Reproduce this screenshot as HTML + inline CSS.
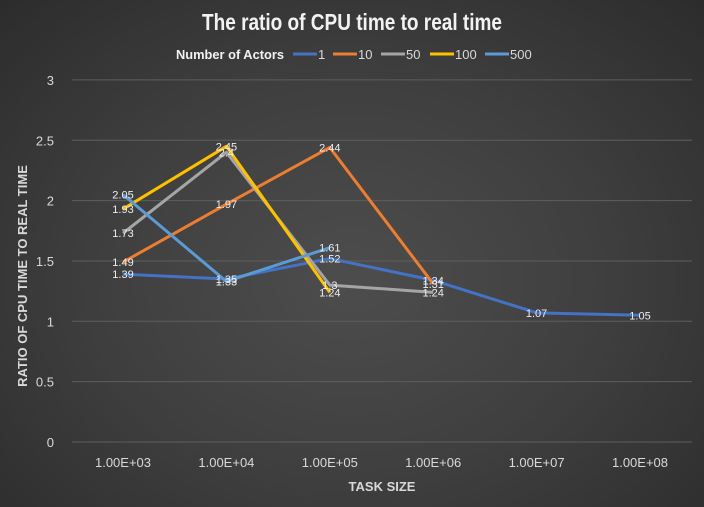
<!DOCTYPE html>
<html><head><meta charset="utf-8"><style>
html,body{margin:0;padding:0;width:704px;height:507px;overflow:hidden}
body{background:radial-gradient(ellipse at 50% 55%,#4d4d4d 0%,#3f3f3f 50%,#2c2c2c 100%);font-family:"Liberation Sans",sans-serif}
</style></head><body>
<svg id="chart" width="704" height="507" xmlns="http://www.w3.org/2000/svg"></svg>
<script>
const categories=["1.00E+03","1.00E+04","1.00E+05","1.00E+06","1.00E+07","1.00E+08"];
const yTicks=[0,0.5,1,1.5,2,2.5,3];
const seriesNames=["1","10","50","100","500"];
const seriesColors=["#4472c4","#ed7d31","#a5a5a5","#ffc000","#5b9bd5"];
const s1=[1.39,1.35,1.52,1.34,1.07,1.05];
const s10=[1.49,1.97,2.44,1.31];
const s50=[1.73,2.4,1.3,1.24];
const s100=[1.93,2.45,1.24];
const s500=[2.05,1.33,1.61];
const seriesData=[s1,s10,s50,s100,s500];
const svg=document.getElementById('chart');
const NS="http://www.w3.org/2000/svg";
function x(i){return 123+i*103.4;}
function y(v){return 442-v*120.7;}
function mk(t,a,p){const e=document.createElementNS(NS,t);for(const k in a)e.setAttribute(k,a[k]);(p||svg).appendChild(e);return e;}
let t=mk('text',{x:352,y:30,'text-anchor':'middle','font-size':23,'font-weight':'bold',fill:'#f2f2f2',textLength:300,lengthAdjust:'spacingAndGlyphs'});t.textContent="The ratio of CPU time to real time";


const lg=mk('g',{});


let lt=mk('text',{x:176,y:59,'font-size':13,'font-weight':'bold',fill:'#f2f2f2',textLength:108,lengthAdjust:'spacingAndGlyphs'},lg);lt.textContent="Number of Actors";
const lx=[293,333,381,430,485];
seriesNames.forEach((n,i)=>{
 const g=mk('g',{},lg);
 
 
 mk('line',{x1:lx[i],x2:lx[i]+24,y1:54,y2:54,stroke:seriesColors[i],'stroke-width':3},g);
 const tt=mk('text',{x:lx[i]+25,y:59,'font-size':13,fill:'#d9d9d9'},g);tt.textContent=n;
});
yTicks.forEach(v=>{
 const l=mk('line',{x1:72,x2:692,y1:y(v),y2:y(v),stroke:'#5e5e5e','stroke-width':1});
 
 
 const tx=mk('text',{x:54,y:y(v)+5,'text-anchor':'end','font-size':13,fill:'#d9d9d9'});tx.textContent=v;
 
 
});
categories.forEach((c,i)=>{
 const tx=mk('text',{x:x(i),y:467,'text-anchor':'middle','font-size':13,fill:'#d9d9d9'});tx.textContent=c;
 
 
});
let xt=mk('text',{x:382,y:491,'text-anchor':'middle','font-size':13,'font-weight':'bold',fill:'#d9d9d9'});xt.textContent="TASK SIZE";


let yt=mk('text',{x:0,y:0,'text-anchor':'middle','font-size':13,'font-weight':'bold',fill:'#d9d9d9',transform:'translate(27,276) rotate(-90)'});yt.textContent="RATIO OF CPU TIME TO REAL TIME";


seriesData.forEach((d,si)=>{
 const pts=d.map((v,i)=>x(i)+','+y(v)).join(' ');
 const pl=mk('polyline',{points:pts,fill:'none',stroke:seriesColors[si],'stroke-width':3,'stroke-linejoin':'round'});
 
 
});
seriesData.forEach((d,si)=>{
 d.forEach((v,i)=>{
  const tx=mk('text',{x:x(i),y:y(v)+4,'text-anchor':'middle','font-size':11,fill:'#eeeeee'});tx.textContent=v;
  
  
 });
});
</script>
</body></html>
